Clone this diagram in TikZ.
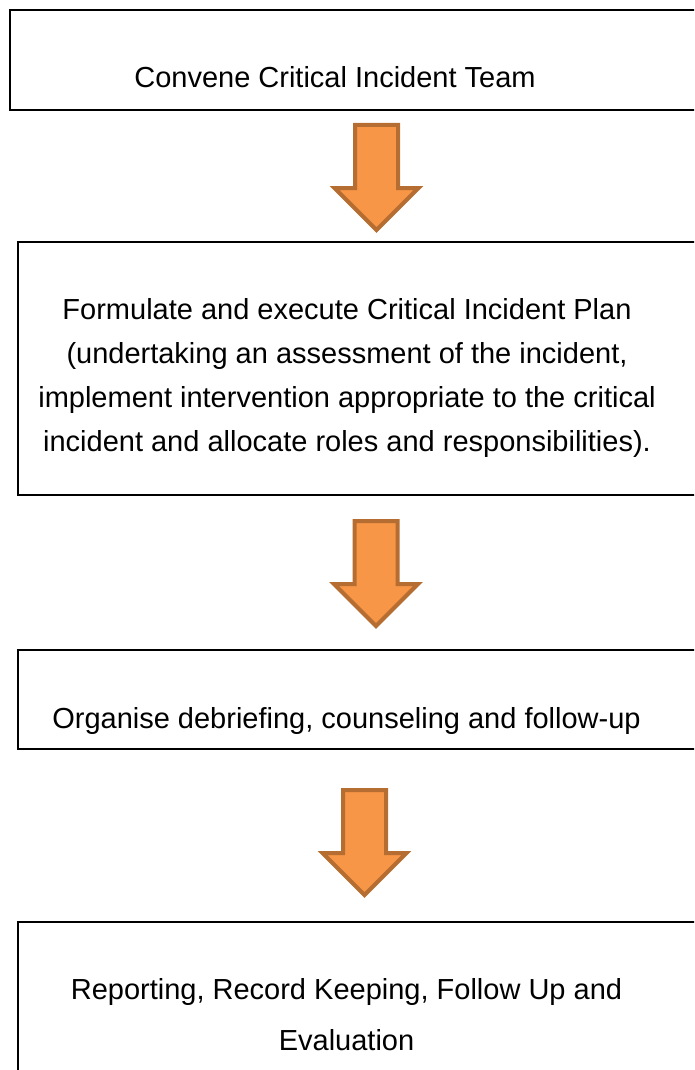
\documentclass[tikz,border=0pt]{standalone}
\usepackage{fontspec}
\setmainfont{Liberation Sans}
\definecolor{arrowfill}{HTML}{F79646}
\definecolor{arrowline}{HTML}{B66D31}
\tikzset{
  box/.style={draw=black, line width=2pt},
  steptext/.style={align=center, inner sep=0pt, font=\fontsize{29}{44}\selectfont},
  downarrow/.style={fill=arrowfill, draw=arrowline, line width=4pt, line join=miter},
}

\begin{document}
\begin{tikzpicture}[x=1pt,y=-1pt]
    % PAGE
    \useasboundingbox (0,0) rectangle (694,1070);
    \clip (0,0) rectangle (694,1070);

    % BOXES
    \draw[box] (10,10) rectangle (720,110);
    \draw[box] (17.5,241.5) rectangle (720,495);
    \draw[box] (17.5,650) rectangle (720,749);
    \draw[box] (17.5,922) rectangle (720,1100);

    % TEXTS
    \node[steptext] (team) at (335,77.5) {Convene Critical Incident Team};
    \node[steptext] (plan) at (347,378) {Formulate and execute Critical Incident Plan\\
        (undertaking an assessment of the incident,\\
        implement intervention appropriate to the critical\\
        incident and allocate roles and responsibilities).};
    \node[steptext] (debrief) at (346.5,720.5) {Organise debriefing, counseling and follow-up};
    \node[steptext, font=\fontsize{29}{51}\selectfont] (report) at (346.5,1015)
        {Reporting, Record Keeping, Follow Up and\\ Evaluation};

    % ARROWS
    \foreach \cx/\ty in {376.5/125, 376/521, 364.5/790} {
    \draw[downarrow] (\cx-21.5,\ty) -- (\cx+21.5,\ty) -- (\cx+21.5,\ty+63) -- (\cx+42,\ty+63)
        -- (\cx,\ty+105) -- (\cx-42,\ty+63) -- (\cx-21.5,\ty+63) -- cycle;
    }

\end{tikzpicture}
\end{document}
